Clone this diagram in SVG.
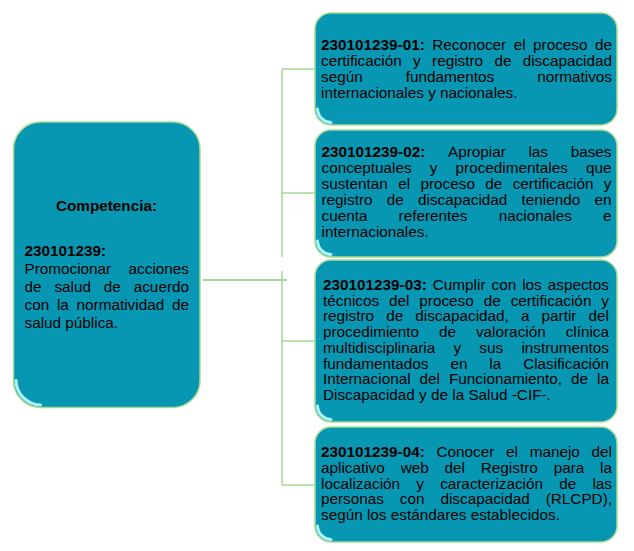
<svg xmlns="http://www.w3.org/2000/svg" width="634" height="551" viewBox="0 0 634 551">
<style>
.box{fill:#0897b3;stroke:#a6db92;stroke-width:1.5}
.hl{fill:none;stroke:#b8fbff;stroke-width:3;stroke-linecap:round;opacity:0.95;filter:url(#blur)}
.t{font-family:"Liberation Sans",Arial,sans-serif;font-size:15.3px;fill:#000}
.b{font-weight:bold}
.con{fill:none;stroke:#a3d995;stroke-width:1.5}
</style>
<defs>
<filter id="blur" x="-20%" y="-20%" width="140%" height="140%"><feGaussianBlur stdDeviation="0.7"/></filter>
</defs>
<rect width="634" height="551" fill="#fff"/>
<g id="connectors">
<path class="con" d="M282 69V257M282 271V485M282 69H315M282 193H315M282 341H315M282 485H315"/>
<path class="con" style="stroke-width:2" d="M203 280H287"/>
</g>
<g id="competencia">
<rect class="box" x="13.5" y="122" width="186.5" height="285.5" rx="27"/>
<path class="hl" d="M16 380.5A25 25 0 0 0 40.5 405"/>
<text class="t b" x="106.5" y="210.7" text-anchor="middle">Competencia:</text>
<text class="t b" x="24.5" y="255.5">230101239:</text>
<text class="t" y="273.5"><tspan x="24.5">Promocionar</tspan><tspan x="128.6">acciones</tspan></text>
<text class="t" y="291.5"><tspan x="24.5">de</tspan><tspan x="54.39">salud</tspan><tspan x="103.84">de</tspan><tspan x="133.73">acuerdo</tspan></text>
<text class="t" y="309.5"><tspan x="24.5">con</tspan><tspan x="56.94">la</tspan><tspan x="76.62">normatividad</tspan><tspan x="171.98">de</tspan></text>
<text class="t" x="24.5" y="327.5">salud pública.</text>
</g>
<g id="c01">
<rect class="box" x="315" y="13" width="302" height="112" rx="16"/>
<path class="hl" d="M317.5 109A14 14 0 0 0 331 122.5"/>
<text class="t" y="49.5"><tspan class="b" x="321">230101239-01:</tspan><tspan x="432.24">Reconocer</tspan><tspan x="513.7">el</tspan><tspan x="533.08">proceso</tspan><tspan x="594.98">de</tspan></text>
<text class="t" y="65.5"><tspan x="321">certificación</tspan><tspan x="413.09">y</tspan><tspan x="432.06">registro</tspan><tspan x="494.39">de</tspan><tspan x="522.72">discapacidad</tspan></text>
<text class="t" y="81.5"><tspan x="321">según</tspan><tspan x="405.71">fundamentos</tspan><tspan x="537.18">normativos</tspan></text>
<text class="t" x="321" y="97.5">internacionales y nacionales.</text>
</g>
<g id="c02">
<rect class="box" x="315" y="130" width="302" height="127" rx="16"/>
<path class="hl" d="M317.5 241A14 14 0 0 0 331 254.5"/>
<text class="t" y="157.3"><tspan class="b" x="321.5">230101239-02:</tspan><tspan x="447.94">Apropiar</tspan><tspan x="528.44">las</tspan><tspan x="570.67">bases</tspan></text>
<text class="t" y="173.2"><tspan x="321.5">conceptuales</tspan><tspan x="429.8">y</tspan><tspan x="455.6">procedimentales</tspan><tspan x="585.99">que</tspan></text>
<text class="t" y="189.1"><tspan x="321.5">sustentan</tspan><tspan x="398.22">el</tspan><tspan x="420.5">proceso</tspan><tspan x="485.3">de</tspan><tspan x="512.69">certificación</tspan><tspan x="603.84">y</tspan></text>
<text class="t" y="205"><tspan x="321.5">registro</tspan><tspan x="386.76">de</tspan><tspan x="418.02">discapacidad</tspan><tspan x="521.56">teniendo</tspan><tspan x="594.5">en</tspan></text>
<text class="t" y="220.9"><tspan x="321.5">cuenta</tspan><tspan x="398.61">referentes</tspan><tspan x="498.67">nacionales</tspan><tspan x="602.98">e</tspan></text>
<text class="t" x="321.5" y="236.8">internacionales.</text>
</g>
<g id="c03">
<rect class="box" x="315" y="260" width="302" height="162" rx="16"/>
<path class="hl" d="M317.5 406A14 14 0 0 0 331 419.5"/>
<text class="t" y="290"><tspan class="b" x="323">230101239-03:</tspan><tspan x="432.79">Cumplir</tspan><tspan x="491.51">con</tspan><tspan x="522.2">los</tspan><tspan x="547.78">aspectos</tspan></text>
<text class="t" y="305.7"><tspan x="323">técnicos</tspan><tspan x="389.04">del</tspan><tspan x="419.37">proceso</tspan><tspan x="483.71">de</tspan><tspan x="510.64">certificación</tspan><tspan x="601.33">y</tspan></text>
<text class="t" y="321.4"><tspan x="323">registro</tspan><tspan x="386.14">de</tspan><tspan x="415.28">discapacidad,</tspan><tspan x="520.95">a</tspan><tspan x="541.59">partir</tspan><tspan x="588.57">del</tspan></text>
<text class="t" y="337.1"><tspan x="323">procedimiento</tspan><tspan x="439.02">de</tspan><tspan x="475.97">valoración</tspan><tspan x="565.63">clínica</tspan></text>
<text class="t" y="352.9"><tspan x="323">multidisciplinaria</tspan><tspan x="453.46">y</tspan><tspan x="479.36">sus</tspan><tspan x="521.42">instrumentos</tspan></text>
<text class="t" y="368.6"><tspan x="323">fundamentados</tspan><tspan x="450.38">en</tspan><tspan x="489.31">la</tspan><tspan x="523.13">Clasificación</tspan></text>
<text class="t" y="384.3"><tspan x="323">Internacional</tspan><tspan x="419.59">del</tspan><tspan x="449">Funcionamiento,</tspan><tspan x="571.1">de</tspan><tspan x="597.11">la</tspan></text>
<text class="t" x="323" y="400">Discapacidad y de la Salud -CIF-.</text>
</g>
<g id="c04">
<rect class="box" x="315" y="427" width="302" height="115" rx="16"/>
<path class="hl" d="M317.5 526A14 14 0 0 0 331 539.5"/>
<text class="t" y="457.3"><tspan class="b" x="321">230101239-04:</tspan><tspan x="436.5">Conocer</tspan><tspan x="506.06">el</tspan><tspan x="529.7">manejo</tspan><tspan x="591.61">del</tspan></text>
<text class="t" y="473"><tspan x="321">aplicativo</tspan><tspan x="400.63">web</tspan><tspan x="444.55">del</tspan><tspan x="480.82">Registro</tspan><tspan x="553.64">para</tspan><tspan x="600.12">la</tspan></text>
<text class="t" y="488.7"><tspan x="321">localización</tspan><tspan x="416.28">y</tspan><tspan x="440.14">caracterización</tspan><tspan x="559.23">de</tspan><tspan x="592.45">las</tspan></text>
<text class="t" y="504.4"><tspan x="321">personas</tspan><tspan x="399.87">con</tspan><tspan x="440.47">discapacidad</tspan><tspan x="545.7">(RLCPD),</tspan></text>
<text class="t" x="321" y="520.1">según los estándares establecidos.</text>
</g>
</svg>
